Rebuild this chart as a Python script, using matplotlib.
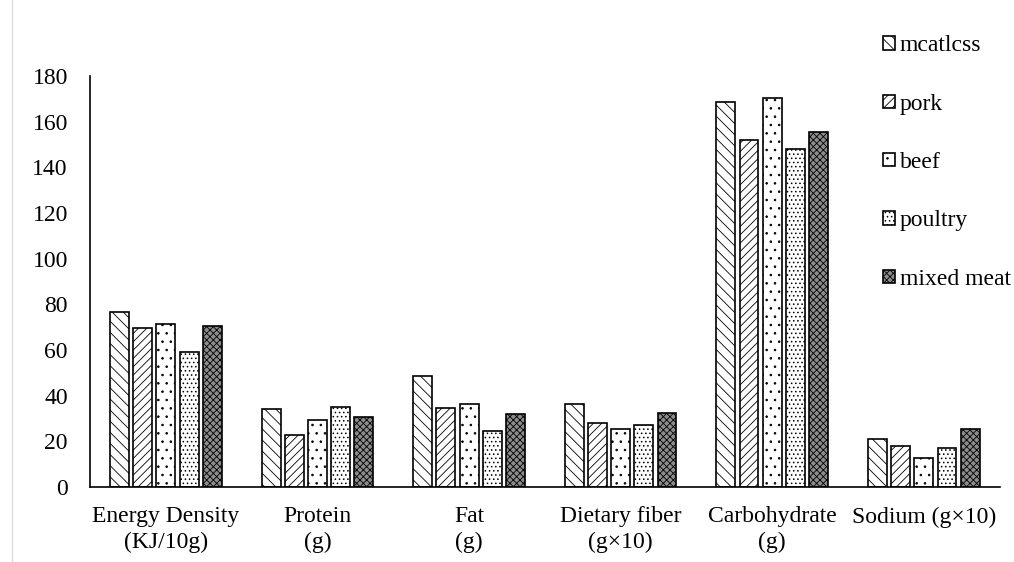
import matplotlib
matplotlib.use('Agg')
import matplotlib.pyplot as plt
import numpy as np

# Categorias y series
categorias = ['Energy Density\n(KJ/10g)', 'Protein\n(g)', 'Fat\n(g)',
              'Dietary fiber\n(g×10)', 'Carbohydrate\n(g)', 'Sodium (g×10)']
series = ['mcatlcss', 'pork', 'beef', 'poultry', 'mixed meat']

mcatlcss = [76.5, 34.0, 48.5, 36.3, 168.5, 21.0]
pork = [69.5, 22.8, 34.5, 28.0, 152.0, 18.0]
beef = [71.5, 29.3, 36.3, 25.5, 170.5, 12.8]
poultry = [59.0, 35.0, 24.5, 27.3, 148.0, 17.2]
mixed_meat = [70.3, 30.6, 31.8, 32.4, 155.5, 25.5]

valores = [mcatlcss, pork, beef, poultry, mixed_meat]
tramas = ['\\\\\\', '////', '..', '....', 'xxxxx']
colores = ['white', 'white', 'white', 'white', '#8c8c8c']

plt.rcParams['font.family'] = ['Liberation Serif', 'DejaVu Serif']
plt.rcParams['hatch.linewidth'] = 0.6

fig = plt.figure(figsize=(10.14, 5.62), dpi=100)
ax = fig.add_axes([0.0888, 0.1335, 0.897, 0.7313])

x = np.arange(len(categorias))
ancho = 0.125
paso = 0.153
for i, (nombre, vals) in enumerate(zip(series, valores)):
    ax.bar(x + (i - 2) * paso, vals, ancho, label=nombre,
           facecolor=colores[i], edgecolor='black', hatch=tramas[i],
           linewidth=1.2)

ax.set_xlim(-0.5, len(categorias) - 0.5)
ax.set_ylim(0, 180)
ax.set_yticks(range(0, 181, 20))
ax.set_xticks(x)
ax.set_xticklabels(categorias, fontsize=17, linespacing=1.25)
ax.tick_params(axis='both', length=0, labelsize=17)
ax.tick_params(axis='y', pad=16)
ax.tick_params(axis='x', pad=14)

for lado in ['top', 'right']:
    ax.spines[lado].set_visible(False)
ax.spines['left'].set_linewidth(1.2)
ax.spines['bottom'].set_linewidth(1.2)

fig.legend(loc='upper left', bbox_to_anchor=(0.871, 0.937), frameon=False,
           fontsize=17, handlelength=0.5, handleheight=0.5,
           handletextpad=0.2, labelspacing=1.58, borderaxespad=0,
           borderpad=0)

# borde izquierdo gris claro
fig.add_artist(plt.Line2D([0.012, 0.012], [0, 1], color='#d9d9d9',
                          linewidth=0.8, transform=fig.transFigure))

fig.savefig('out.png', dpi=100)
